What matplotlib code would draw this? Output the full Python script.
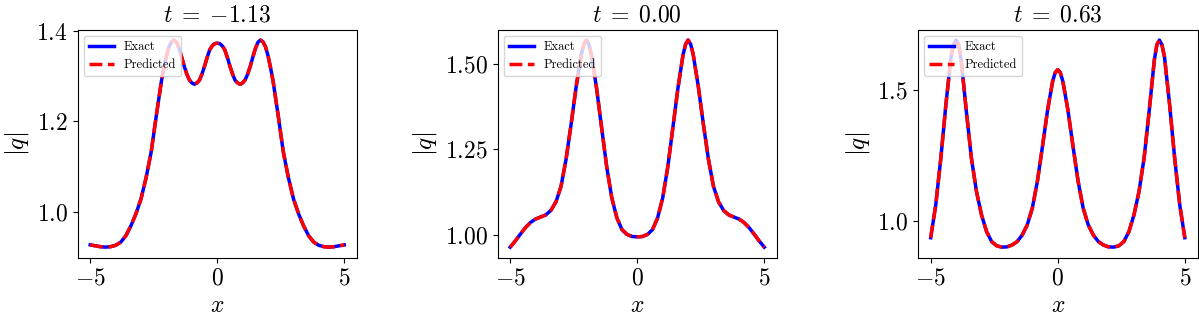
import numpy as np
import matplotlib
matplotlib.use('Agg')
import matplotlib.pyplot as plt

plt.rcParams['mathtext.fontset'] = 'cm'
plt.rcParams['font.family'] = ['cmr10', 'DejaVu Serif']
plt.rcParams['axes.unicode_minus'] = False

# panel titles
titles = [r'$t\;=\;{-1.13}$', r'$t\;=\;0.00$', r'$t\;=\;0.63$']

# t = -1.13
x1 = [-5.0, -4.8, -4.6, -4.4, -4.2, -4.0, -3.8, -3.6, -3.4, -3.2, -3.0, -2.8, -2.6, -2.4, -2.2,
      -2.1, -2.0, -1.9, -1.8, -1.7, -1.6, -1.5, -1.4, -1.3, -1.2, -1.1, -1.0,
      -0.9, -0.8, -0.7, -0.6, -0.5, -0.4, -0.3, -0.2, -0.1, 0.0,
      0.1, 0.2, 0.3, 0.4, 0.5, 0.6, 0.7, 0.8, 0.9,
      1.0, 1.1, 1.2, 1.3, 1.4, 1.5, 1.6, 1.7, 1.8, 1.9, 2.0, 2.1,
      2.2, 2.4, 2.6, 2.8, 3.0, 3.2, 3.4, 3.6, 3.8, 4.0, 4.2, 4.4, 4.6, 4.8, 5.0]
q1_exact = [0.926, 0.924, 0.922, 0.921, 0.922, 0.925, 0.932, 0.946, 0.968, 0.995, 1.028, 1.075, 1.132, 1.212, 1.288,
            1.318, 1.345, 1.365, 1.376, 1.380, 1.375, 1.361, 1.342, 1.322, 1.305, 1.292, 1.285,
            1.282, 1.285, 1.291, 1.305, 1.322, 1.341, 1.358, 1.367, 1.372, 1.373,
            1.372, 1.367, 1.358, 1.341, 1.322, 1.305, 1.291, 1.285, 1.282,
            1.285, 1.292, 1.305, 1.322, 1.342, 1.361, 1.375, 1.380, 1.376, 1.365, 1.345, 1.318,
            1.288, 1.212, 1.132, 1.075, 1.028, 0.995, 0.968, 0.946, 0.932, 0.925, 0.922, 0.921, 0.922, 0.924, 0.926]
q1_pred = list(q1_exact)

# t = 0.00
x2 = [-5.0, -4.8, -4.6, -4.4, -4.2, -4.0, -3.8, -3.6, -3.4, -3.2, -3.0, -2.8, -2.6, -2.4, -2.2, -2.1,
      -2.0, -1.9, -1.8, -1.6, -1.4, -1.2, -1.0, -0.8, -0.6, -0.4, -0.2, 0.0,
      0.2, 0.4, 0.6, 0.8, 1.0, 1.2, 1.4, 1.6, 1.8, 1.9, 2.0,
      2.1, 2.2, 2.4, 2.6, 2.8, 3.0, 3.2, 3.4, 3.6, 3.8, 4.0, 4.2, 4.4, 4.6, 4.8, 5.0]
q2_exact = [0.965, 0.983, 1.003, 1.022, 1.037, 1.047, 1.053, 1.059, 1.072, 1.097, 1.142, 1.222, 1.325, 1.435, 1.528, 1.557,
            1.569, 1.556, 1.525, 1.428, 1.312, 1.198, 1.108, 1.050, 1.016, 1.002, 0.996, 0.995,
            0.996, 1.002, 1.016, 1.050, 1.108, 1.198, 1.312, 1.428, 1.525, 1.556, 1.569,
            1.557, 1.528, 1.435, 1.325, 1.222, 1.142, 1.097, 1.072, 1.059, 1.053, 1.047, 1.037, 1.022, 1.003, 0.983, 0.965]
q2_pred = list(q2_exact)

# t = 0.63
x3 = [-5.0, -4.8, -4.6, -4.4, -4.2, -4.1, -4.0, -3.9, -3.8, -3.6, -3.4, -3.2, -3.0, -2.8, -2.6, -2.4, -2.2,
      -2.0, -1.8, -1.6, -1.4, -1.2, -1.0, -0.8, -0.6, -0.4, -0.2, -0.1, 0.0,
      0.1, 0.2, 0.4, 0.6, 0.8, 1.0, 1.2, 1.4, 1.6, 1.8, 2.0,
      2.2, 2.4, 2.6, 2.8, 3.0, 3.2, 3.4, 3.6, 3.8, 3.9, 4.0, 4.1, 4.2, 4.4, 4.6, 4.8, 5.0]
q3_exact = [0.936, 1.062, 1.241, 1.446, 1.626, 1.672, 1.690, 1.672, 1.613, 1.421, 1.241, 1.113, 1.023, 0.959, 0.921, 0.905, 0.900,
            0.901, 0.908, 0.921, 0.946, 0.985, 1.049, 1.152, 1.285, 1.423, 1.533, 1.566, 1.577,
            1.566, 1.533, 1.423, 1.285, 1.152, 1.049, 0.985, 0.946, 0.921, 0.908, 0.901,
            0.900, 0.905, 0.921, 0.959, 1.023, 1.113, 1.241, 1.421, 1.613, 1.672, 1.690, 1.672, 1.626, 1.446, 1.241, 1.062, 0.936]
q3_pred = list(q3_exact)

xs = [x1, x2, x3]
exacts = [q1_exact, q2_exact, q3_exact]
preds = [q1_pred, q2_pred, q3_pred]

xticks = [-5, 0, 5]
yticks = [[1.0, 1.2, 1.4], [1.00, 1.25, 1.50], [1.0, 1.5]]
ytick_labels = [['1.0', '1.2', '1.4'], ['1.00', '1.25', '1.50'], ['1.0', '1.5']]

fig = plt.figure(figsize=(11.99, 3.27), dpi=100)
lefts = [77.5, 497.5, 918.0]
for i in range(3):
    ax = fig.add_axes([lefts[i] / 1199, (327 - 257.5) / 327, 279.5 / 1199, 227.8 / 327])
    ax.plot(xs[i], exacts[i], 'b-', lw=2.5, label='Exact')
    ax.plot(xs[i], preds[i], 'r--', lw=2.5, label='Predicted')
    ax.set_xticks(xticks, labels=['$%d$' % v for v in xticks])
    ax.set_yticks(yticks[i], labels=['$%s$' % s for s in ytick_labels[i]])
    ax.tick_params(labelsize=17)
    ax.set_xlabel('$x$', fontsize=17)
    ax.set_ylabel('$|q|$', fontsize=18)
    ax.set_title(titles[i], fontsize=17)
    ax.legend(loc='upper left', fontsize=9)

fig.savefig('out.png', dpi=100)
